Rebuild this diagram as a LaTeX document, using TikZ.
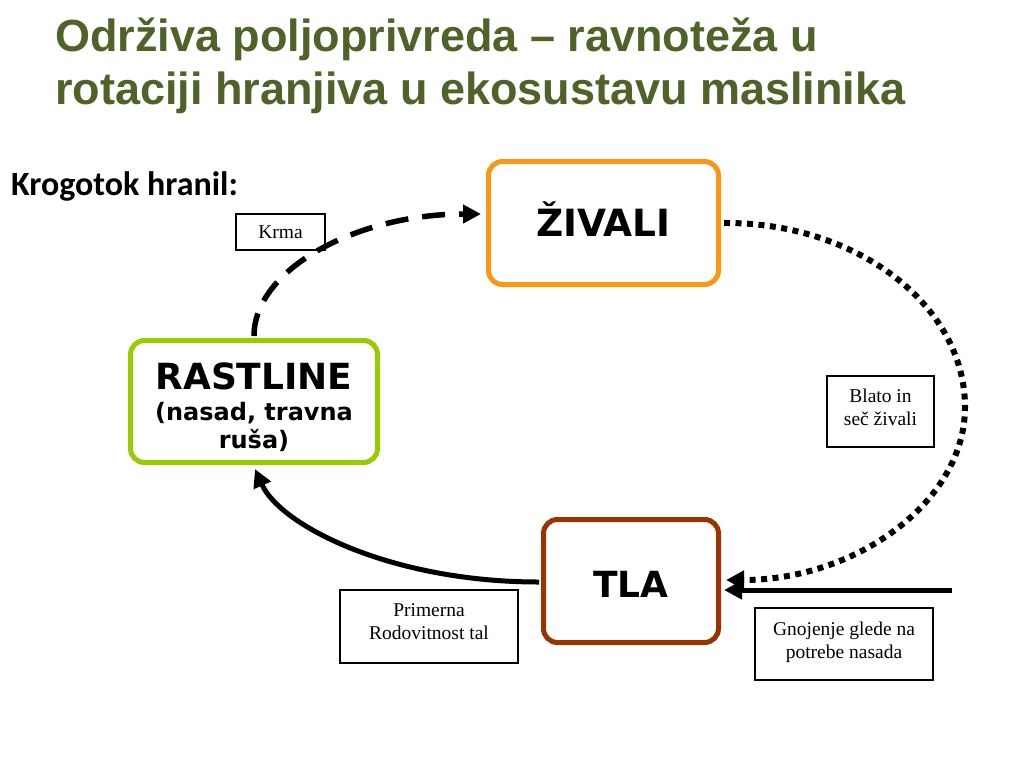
\documentclass[tikz,border=0pt]{standalone}
\usepackage{fontspec}
\setmainfont{Liberation Serif}
\newfontfamily\arialf{Liberation Sans}
\newfontfamily\calibrif{Carlito}
\newfontfamily\verdanaf{DejaVu Sans}
\usetikzlibrary{arrows.meta}
\definecolor{titlegreen}{RGB}{79,98,40}
\definecolor{boxorange}{RGB}{248,152,20}
\definecolor{boxgreen}{RGB}{153,204,0}
\definecolor{boxbrown}{RGB}{153,51,0}
\tikzset{
  bigbox/.style={draw, line width=5pt, rounded corners=14pt, fill=white, align=center,
    inner sep=0pt, font=\verdanaf\bfseries\fontsize{36}{40}\selectfont},
  labelbox/.style={draw, line width=1.2pt, align=center, inner sep=0pt,
    font=\fontsize{19.5}{23}\selectfont},
  flowtip/.style={-{Triangle[length=18pt,width=18pt]}},
  dashflow/.style={flowtip, line width=5.5pt, dash pattern=on 23pt off 14pt},
  dotflow/.style={flowtip, line width=6pt, dash pattern=on 6pt off 5.5pt},
  solidflow/.style={flowtip, line width=5pt}
}
\begin{document}
\begin{tikzpicture}[x=1pt,y=-1pt]
\useasboundingbox (0,0) rectangle (1024,768);
\fill[white] (0,0) rectangle (1024,768);

% title
\node[anchor=north west, inner sep=0pt, align=left, text=titlegreen,
      font=\arialf\bfseries\fontsize{45}{53}\selectfont] (title) at (55,18)
  {Održiva poljoprivreda – ravnoteža u\\rotaciji hranjiva u ekosustavu maslinika};

\node[anchor=base west, inner sep=0pt, font=\calibrif\bfseries\fontsize{34}{38}\selectfont] (sub) at (11,195)
  {Krogotok hranil:};

% main boxes
\node[bigbox, draw=boxorange, minimum width=230pt, minimum height=123pt,
      font=\verdanaf\bfseries\fontsize{37.5}{40}\selectfont] (Z) at (603.5,223)
  {ŽIVALI\rule[-7pt]{0pt}{7pt}};
\node[bigbox, draw=boxgreen, minimum width=247pt, minimum height=122pt,
      font=\verdanaf\bfseries\fontsize{24}{28}\selectfont] (R) at (254,401.5)
  {{\fontsize{36}{40}\selectfont\rule{0pt}{39pt}RASTLINE}\\[3pt](nasad, travna\\ruša)};
\node[bigbox, draw=boxbrown, minimum width=175pt, minimum height=123pt] (T) at (631,581)
  {\rule{0pt}{32pt}TLA};

% label boxes
\node[labelbox, minimum width=89pt, minimum height=36pt] (krma) at (280.5,232) {Krma};
\node[labelbox, minimum width=107pt, minimum height=71pt] (blato) at (880.5,411.5)
  {Blato in\\seč živali\rule[-9pt]{0pt}{9pt}};
\node[labelbox, minimum width=178pt, minimum height=73pt] (prim) at (429,626.5)
  {Primerna\\Rodovitnost tal\rule[-9.6pt]{0pt}{9.6pt}};
\node[labelbox, minimum width=178pt, minimum height=72pt] (gnoj) at (844,644)
  {Gnojenje glede na\\potrebe nasada\rule[-8pt]{0pt}{8pt}};

% connectors
\draw[dashflow] ([yshift=2pt]R.north) .. controls (254,269) and (357,214) .. ([xshift=-5pt,yshift=9pt]Z.west);
\draw[dotflow] ([xshift=3pt]Z.east) .. controls (856,222) and (965,305) .. (965,407)
  .. controls (965,502) and (856,580) .. ([xshift=5pt,yshift=1pt]T.east);
\draw[solidflow] ([xshift=-2pt,yshift=-1pt]T.west) .. controls (390,582) and (280,525) .. ([xshift=1pt,yshift=-4pt]R.south);
\coordinate (fert) at (952,590);
\draw[solidflow] (fert) -- ([xshift=3pt,yshift=-9pt]T.east);
\end{tikzpicture}
\end{document}
